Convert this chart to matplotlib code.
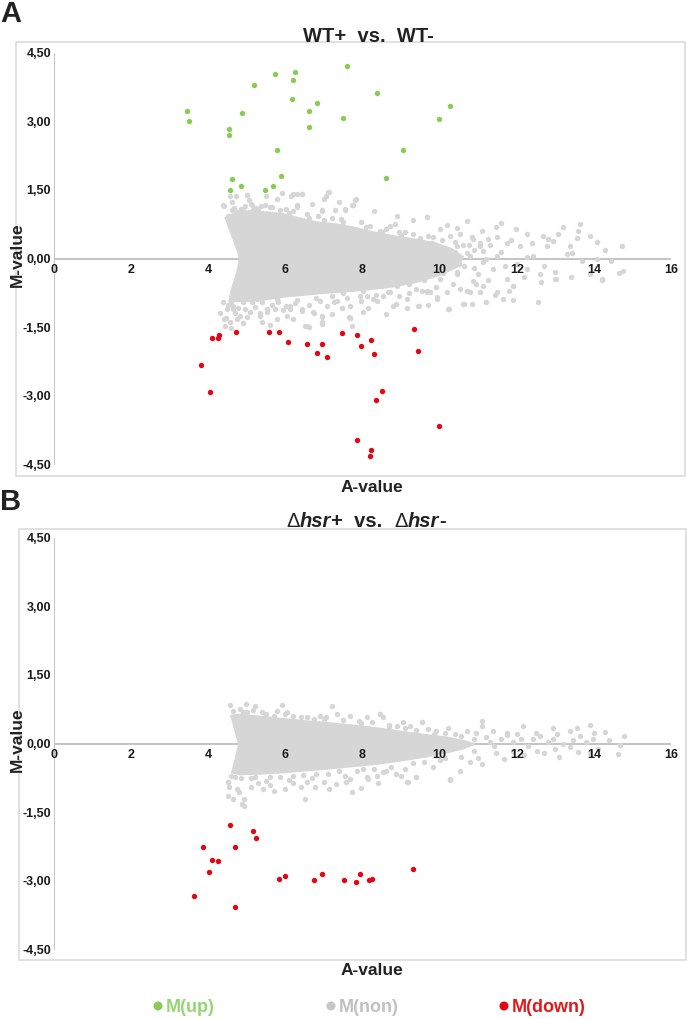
import matplotlib
matplotlib.use('Agg')
import matplotlib.pyplot as plt
from matplotlib.patches import Rectangle, Ellipse
from matplotlib.transforms import offset_copy

# ---------------- data ----------------
x_ticks = [0, 2, 4, 6, 8, 10, 12, 14, 16]
y_ticks = [4.5, 3.0, 1.5, 0.0, -1.5, -3.0, -4.5]
y_tick_labels = ['4,50', '3,00', '1,50', '0,00', '-1,50', '-3,00', '-4,50']
legend_labels = ['M(up)', 'M(non)', 'M(down)']

# Panel A: WT+ vs. WT-   (A-value, M-value)
up_A = [(3.44, 3.24), (3.51, 3.01), (4.53, 2.83), (4.53, 2.71), (4.88, 3.20), (6.18, 3.50),
        (6.61, 3.23), (6.81, 3.40), (6.60, 2.89), (7.49, 3.08), (5.79, 2.39), (4.62, 1.74),
        (4.56, 1.50), (4.84, 1.59), (5.48, 1.51), (5.68, 1.59), (5.88, 1.81), (5.74, 4.05),
        (6.24, 4.09), (6.21, 3.91), (5.19, 3.81), (7.61, 4.22), (8.38, 3.63), (10.28, 3.34),
        (9.98, 3.06), (9.04, 2.39), (8.61, 1.78)]

down_A = [(3.81, -2.31), (4.05, -2.90), (4.10, -1.72), (4.24, -1.72), (4.28, -1.67), (4.71, -1.59),
          (5.57, -1.59), (5.84, -1.60), (6.07, -1.82), (6.57, -1.86), (6.82, -2.05), (6.96, -1.85),
          (7.07, -2.15), (7.48, -1.62), (7.87, -1.65), (8.22, -1.76), (7.96, -1.91), (8.30, -2.07),
          (9.33, -1.54), (9.43, -2.02), (8.50, -2.88), (8.34, -3.07), (9.98, -3.65), (7.86, -3.95),
          (8.22, -4.18), (8.19, -4.30)]

# dense core of the non-changed genes (outline)
core_A = [(4.45, 0.90), (4.70, 1.00), (5.10, 1.05), (5.50, 1.02), (5.95, 0.98), (6.40, 0.88),
          (6.80, 0.80), (7.30, 0.76), (7.80, 0.68), (8.30, 0.58), (8.80, 0.50), (9.40, 0.42),
          (9.90, 0.34), (10.30, 0.22), (10.60, 0.05), (10.50, -0.15), (10.00, -0.35), (9.40, -0.50),
          (8.80, -0.60), (8.20, -0.66), (7.70, -0.70), (7.00, -0.74), (6.50, -0.78), (6.00, -0.82),
          (5.50, -0.88), (5.00, -0.92), (4.55, -0.92), (4.60, -0.70), (4.75, -0.30), (4.82, 0.00),
          (4.78, 0.15), (4.60, 0.55)]

non_A = [(4.41, 1.16), (4.56, 1.38), (4.72, 1.37), (4.62, 1.08), (5.13, 1.18), (5.37, 1.15),
         (5.50, 1.38), (5.77, 1.31), (6.14, 1.38), (6.29, 1.43), (6.42, 1.41), (7.11, 1.46),
         (7.05, 1.38), (5.60, 1.13), (6.02, 1.10), (6.29, 1.13), (6.94, 1.05), (7.55, 1.09),
         (7.83, 1.30), (7.76, 1.17), (7.55, 1.07), (9.67, 0.92), (8.71, 0.73), (10.20, 0.74),
         (10.71, 0.82), (11.46, 0.69), (11.59, 0.79), (11.99, 0.65), (12.26, 0.55), (12.69, 0.51),
         (12.82, 0.44), (13.21, 0.69), (13.08, 0.54), (13.64, 0.76), (13.60, 0.62), (13.90, 0.51),
         (14.07, 0.38), (13.38, 0.29), (13.43, 0.14), (14.72, 0.29), (14.07, 0.01), (12.60, -0.33),
         (12.62, -0.51), (12.99, -0.29), (12.99, -0.44), (13.90, -0.33), (14.20, -0.44), (14.64, -0.31),
         (14.76, -0.26), (12.09, 0.29), (12.43, 0.07), (11.74, 0.36), (12.26, 0.04), (11.48, 0.07),
         (11.26, 0.44), (11.05, 0.29), (10.87, 0.44), (10.53, 0.55), (10.27, 0.51), (10.44, 0.29),
         (10.70, 0.14), (11.13, -0.07), (11.39, -0.22), (11.74, -0.44), (11.91, -0.58), (11.48, -0.73),
         (11.05, -0.73), (10.70, -0.69), (10.87, -0.47), (10.44, -0.29), (10.01, -0.44), (9.75, -0.29),
         (9.67, -0.69), (10.18, -0.73), (12.26, -0.22), (13.30, 0.11), (12.78, 0.29), (12.56, -0.93),
         (14.20, -0.46), (13.03, -0.44), (11.91, -0.90), (11.65, -0.87), (11.43, -0.79), (11.19, -0.95),
         (10.83, -0.98), (10.61, -0.98), (10.25, -1.09), (9.92, -0.87), (9.46, -1.02), (9.15, -1.06),
         (8.80, -1.02), (8.13, -1.06), (7.68, -1.29), (7.72, -1.46), (7.46, -1.06), (10.53, -0.66),
         (9.75, -0.73), (8.54, -0.80), (8.28, -0.87), (7.94, -0.80), (4.30, -1.19), (4.48, -1.09),
         (4.46, -1.29), (4.65, -1.09), (4.56, -1.38), (4.78, -1.06), (5.00, -1.27), (5.14, -0.95),
         (5.34, -1.17), (5.39, -1.38), (5.52, -1.09), (5.77, -1.31), (6.02, -1.02), (6.12, -1.09),
         (6.42, -1.13), (6.51, -1.46), (6.60, -1.49), (6.73, -1.17), (6.94, -1.27), (6.94, -1.38),
         (7.07, -1.02), (7.33, -0.91), (7.46, -1.06), (7.66, -1.27), (5.26, -0.87), (5.77, -0.87),
         (6.21, 1.42), (6.42, 1.42), (6.99, 1.31), (7.12, 1.46), (7.81, 1.28), (7.72, 1.17),
         (7.29, 1.06), (6.94, 1.06), (9.66, 0.92), (8.84, 0.77), (9.10, 0.58), (8.45, 0.62),
         (9.84, 0.47), (10.83, 0.47), (11.05, 0.36), (11.13, 0.18), (10.79, 0.07), (10.62, -0.15),
         (10.44, -0.33), (11.00, -0.33), (11.13, -0.58), (10.79, -0.73), (10.62, -0.98), (10.23, -1.09),
         (9.93, -0.84), (9.66, -0.73), (9.40, -0.66), (9.45, -1.02), (9.15, -0.88), (8.88, -0.98),
         (8.71, -0.73), (8.37, -0.91), (8.11, -0.80), (7.68, -1.02), (7.68, -1.28), (6.94, -1.24),
         (6.94, -1.42), (6.55, -1.46), (6.72, -1.16), (6.42, -1.09), (6.12, -1.02), (6.03, -1.24),
         (5.73, -1.09), (5.52, -1.16), (5.34, -1.24), (5.08, -1.16), (4.82, -1.24), (4.65, -1.02),
         (4.74, -1.31), (4.43, -1.46), (4.61, 1.24), (4.39, 1.17), (5.12, 1.20), (5.47, 1.17),
         (5.65, 1.13), (4.91, 1.06), (5.17, 1.06), (4.74, 1.02), (6.29, 1.17),
         (9.50, 0.45), (9.80, 0.35), (10.00, 0.25), (10.40, 0.15), (10.60, 0.30), (10.90, 0.20),
         (11.20, 0.00), (10.50, -0.10), (10.90, -0.20), (9.90, -0.10), (10.10, -0.30), (9.60, -0.45),
         (9.20, -0.55), (8.90, -0.60), (8.50, -0.60), (8.00, -0.70), (7.50, -0.75), (7.20, -0.80),
         (6.80, -0.85), (6.30, -0.90), (5.80, -0.95), (5.40, -0.95), (4.90, -0.95), (4.60, -0.95),
         (8.10, 0.70), (8.50, 0.60), (9.00, 0.52), (7.50, 0.80), (7.00, 0.85), (6.60, 0.90),
         (6.10, 1.00), (5.30, 1.08), (4.85, 1.10),
         (4.50, 0.95), (4.68, 1.12), (4.95, 1.15), (5.25, 1.12), (5.05, 1.28), (5.85, 1.08),
         (6.20, 1.05), (6.55, 0.98), (6.85, 0.95), (7.20, 0.90), (7.45, 0.88), (7.95, 0.80),
         (8.20, 0.72), (8.60, 0.66), (8.95, 0.60), (9.30, 0.55), (9.70, 0.50), (10.05, 0.42),
         (10.40, 0.38), (10.75, 0.30), (11.30, 0.30), (11.60, 0.15), (11.85, 0.42), (12.00, -0.10),
         (11.70, -0.15), (11.25, -0.45), (10.95, -0.55), (10.35, -0.55), (9.90, -0.62), (9.55, -0.70),
         (9.20, -0.75), (8.95, -0.80), (8.65, -0.72), (8.35, -0.78), (7.95, -0.92), (7.60, -0.85),
         (7.25, -0.95), (6.90, -0.92), (6.60, -1.00), (6.25, -0.96), (5.95, -1.12), (5.65, -1.00),
         (5.20, -1.05), (4.95, -1.10), (4.70, -1.18), (4.50, -1.00), (4.38, -0.95), (4.40, -1.30),
         (4.60, -1.50), (4.90, -1.40), (5.60, -1.45), (6.20, -1.30), (7.20, -1.20), (8.00, -1.15),
         (8.60, -1.20), (9.70, -1.00), (5.00, 1.40), (5.90, 1.45), (6.70, 1.20), (7.40, 1.25),
         (8.30, 1.05), (8.90, 0.95), (9.30, 0.85), (10.00, 0.65), (10.45, 0.68), (12.40, 0.35),
         (12.95, 0.40), (13.55, 0.45), (14.30, 0.20), (13.70, -0.05), (12.70, -0.15), (13.40, -0.40),
         (14.45, -0.05), (11.10, 0.62), (11.50, 0.48), (11.80, -0.70), (12.20, -0.40)]

# Panel B: dhsr+ vs. dhsr-
down_B = [(3.63, -3.31), (3.86, -2.24), (4.03, -2.79), (4.11, -2.53), (4.25, -2.56), (4.57, -1.78),
          (4.69, -2.26), (4.70, -3.57), (5.15, -1.91), (5.24, -2.05), (5.83, -2.95), (6.00, -2.89),
          (6.75, -2.97), (6.96, -2.85), (7.53, -2.97), (7.83, -3.01), (7.93, -2.83), (8.18, -2.98),
          (8.24, -2.94), (9.32, -2.72)]

core_B = [(4.60, 0.62), (4.80, 0.64), (5.30, 0.60), (5.90, 0.55), (6.50, 0.50), (7.20, 0.45),
          (7.80, 0.40), (8.40, 0.34), (9.00, 0.27), (9.60, 0.20), (10.20, 0.14), (10.60, 0.07),
          (10.90, 0.00), (10.60, -0.10), (10.20, -0.18), (9.60, -0.28), (9.00, -0.36), (8.40, -0.43),
          (7.80, -0.48), (7.20, -0.53), (6.50, -0.58), (5.90, -0.62), (5.30, -0.65), (4.80, -0.66),
          (4.62, -0.62), (4.72, -0.30), (4.80, 0.00), (4.70, 0.30)]

non_B = [(4.51, -0.82), (4.50, -1.13), (4.92, -1.20), (4.88, -1.31), (4.92, -1.35), (4.74, -0.98),
         (5.42, -0.98), (5.70, -1.02), (5.99, -0.98), (6.52, -1.20), (6.78, -0.95), (7.12, -0.98),
         (7.58, -0.84), (7.72, -1.04), (7.97, -0.97), (8.15, -0.77), (8.37, -0.69), (8.60, -0.58),
         (9.17, -0.82), (9.40, -0.73), (10.27, -0.78), (10.53, -0.58), (11.10, -0.44), (11.67, -0.33),
         (12.18, -0.25), (12.52, -0.15), (12.98, -0.11), (13.37, -0.07), (13.60, -0.18), (14.11, -0.11),
         (14.62, -0.22), (14.68, -0.02), (11.09, 0.51), (11.09, 0.40), (12.17, 0.40), (11.39, 0.29),
         (12.95, 0.36), (13.55, 0.36), (13.90, 0.41), (14.29, 0.26), (14.77, 0.18), (13.38, 0.29),
         (13.64, 0.18), (10.23, 0.36), (9.54, 0.47), (9.23, 0.40), (8.46, 0.65), (8.89, 0.40),
         (8.11, 0.58), (7.68, 0.62), (9.71, 0.33), (10.70, 0.29), (11.74, 0.25), (12.00, 0.22),
         (12.60, 0.18), (12.95, 0.11), (13.99, 0.11), (12.43, 0.11), (4.56, 0.85), (4.99, 0.87),
         (5.21, 0.84), (5.90, 0.85), (7.20, 0.84), (4.82, 0.76), (5.51, 0.65), (5.77, 0.72),
         (6.21, 0.62), (6.55, 0.58), (6.90, 0.62), (7.33, 0.65), (8.45, 0.65), (8.54, 0.58),
         (9.06, 0.47), (9.54, 0.47), (4.52, -0.84), (6.55, -0.84), (6.99, -0.84), (7.68, -0.77),
         (8.11, -0.73), (8.54, -0.62), (8.88, -0.66), (9.15, -0.84), (9.40, -0.73), (9.84, -0.51),
         (10.27, -0.77), (10.79, -0.40), (5.10, -0.75), (5.60, -0.72), (6.20, -0.70), (6.80, -0.65),
         (7.40, -0.60), (8.00, -0.55), (9.30, -0.42), (10.00, -0.35), (10.90, -0.15), (11.40, -0.05),
         (11.60, 0.10), (11.20, 0.15), (10.90, 0.10), (10.40, 0.22), (9.90, 0.28), (11.90, 0.05),
         (12.30, -0.05), (12.80, 0.05), (13.20, 0.00), (13.80, 0.05), (5.00, 0.70), (6.00, 0.65),
         (7.00, 0.55), (7.90, 0.50), (8.70, 0.42), (4.70, -0.72), (5.30, -0.85), (6.20, -0.85),
         (4.65, 0.72), (4.90, 0.70), (5.15, 0.75), (5.40, 0.70), (5.70, 0.62), (6.05, 0.70),
         (6.40, 0.60), (6.75, 0.55), (7.05, 0.60), (7.50, 0.52), (7.95, 0.45), (8.25, 0.48),
         (8.70, 0.38), (9.10, 0.35), (9.40, 0.30), (9.85, 0.22), (10.15, 0.25), (10.55, 0.18),
         (10.95, 0.25), (11.30, 0.05), (11.75, 0.20), (12.10, 0.12), (12.50, 0.25), (13.05, 0.22),
         (13.45, 0.08), (14.00, 0.25), (14.40, 0.08), (4.60, -0.70), (4.85, -0.75), (5.20, -0.72),
         (5.50, -0.80), (5.85, -0.72), (6.10, -0.78), (6.45, -0.68), (6.70, -0.75), (7.10, -0.65),
         (7.55, -0.70), (7.85, -0.60), (8.30, -0.55), (8.75, -0.50), (9.10, -0.55), (9.60, -0.40),
         (10.15, -0.30), (10.55, -0.28), (11.00, -0.30), (11.45, -0.20), (11.90, -0.15), (12.70, -0.20),
         (13.10, -0.28), (13.90, -0.20), (4.55, -0.95), (4.80, -1.05), (5.10, -0.95), (5.60, -0.90),
         (6.40, -0.95), (7.30, -0.88), (8.40, -0.85), (9.00, -0.70), (4.65, -1.20)]

# ---------------- style ----------------
W, H = 687, 1020
GREEN = '#8acb56'
RED = '#e30613'
GRAY = '#d6d6d6'
AXIS = '#c4c4c4'
FRAME = '#dcdcdc'
FONT = ['Liberation Sans', 'DejaVu Sans']
plt.rcParams['font.family'] = FONT

fig = plt.figure(figsize=(W / 100, H / 100), dpi=100)


def fx(px):
    return px / W


def fy(py):
    return 1 - py / H


def unzip(pts):
    return [p[0] for p in pts], [p[1] for p in pts]


def panel(ax_top, ax_bot, frame, up, down, core, non, ylab_y, xlab_y):
    x0, y0, x1, y1 = frame
    fig.patches.append(Rectangle((fx(x0), fy(y1)), fx(x1) - fx(x0), fy(y0) - fy(y1),
                                 transform=fig.transFigure, fill=False, edgecolor=FRAME, lw=1.2))
    ax = fig.add_axes([fx(54), fy(ax_bot), fx(671) - fx(54), fy(ax_top) - fy(ax_bot)])
    ax.set_xlim(0, 16)
    ax.set_ylim(-4.5, 4.5)
    ax.patch.set_visible(False)
    for s in ax.spines.values():
        s.set_visible(False)
    ax.set_xticks([])
    ax.set_yticks([])
    ax.plot([0, 16], [0, 0], color=AXIS, lw=1.4, zorder=1, solid_capstyle='butt')
    ax.plot([0, 0], [-4.5, 4.5], color=AXIS, lw=1.4, zorder=1, solid_capstyle='butt')
    cx, cy = unzip(core)
    ax.fill(cx, cy, color=GRAY, lw=1.5, ec=GRAY, zorder=2)
    nx, ny = unzip(non)
    ax.scatter(nx, ny, s=15, color=GRAY, lw=0, zorder=2)
    if up:
        ux, uy = unzip(up)
        ax.scatter(ux, uy, s=15, color=GREEN, lw=0, zorder=3)
    dx, dy = unzip(down)
    ax.scatter(dx, dy, s=15, color=RED, lw=0, zorder=3)
    tx = offset_copy(ax.transData, fig=fig, x=0, y=-4, units='dots')
    for t in x_ticks:
        ax.text(t, 0, str(t), transform=tx, ha='center', va='top', fontsize=9,
                fontweight='bold', color='#1a1a1a', zorder=5)
    ty = offset_copy(ax.transData, fig=fig, x=-3, y=0, units='dots')
    for v, lab in zip(y_ticks, y_tick_labels):
        ax.text(0, v, lab, transform=ty, ha='right', va='center', fontsize=9,
                fontweight='bold', color='#1a1a1a')
    fig.text(fx(17), fy(ylab_y), 'M-value', rotation=90, ha='center', va='center',
             fontsize=12.5, fontweight='bold', color='#222222')
    fig.text(fx(372), fy(xlab_y), 'A-value', ha='center', va='center',
             fontsize=12.5, fontweight='bold', color='#222222')
    return ax


panel(54, 466, (16, 43, 685, 477), up_A, down_A, core_A, non_A, 255, 488)
panel(539, 951, (19, 530, 686, 961), [], down_B, core_B, non_B, 740, 971)

# panel letters
fig.text(fx(0), fy(14), 'A', ha='left', va='center', fontsize=21, fontweight='bold', color='#222222')
fig.text(fx(0), fy(502), 'B', ha='left', va='center', fontsize=21, fontweight='bold', color='#222222')

# titles
fig.text(fx(368), fy(36), 'WT+  vs.  WT-', ha='center', va='center', fontsize=14.5,
         fontweight='bold', color='#222222')

renderer = fig.canvas.get_renderer()
pieces = [('\u0394', 'normal', 'normal'), ('hsr', 'italic', 'bold'), ('+  vs.  ', 'normal', 'bold'),
          ('\u0394', 'normal', 'normal'), ('hsr', 'italic', 'bold'), ('-', 'normal', 'bold')]
objs = []
for txt, st, wt in pieces:
    o = fig.text(0, fy(522), txt, ha='left', va='center', fontsize=14.5, fontstyle=st,
                 fontweight=wt, color='#222222')
    objs.append(o)
widths = [o.get_window_extent(renderer).width for o in objs]
total = sum(widths)
xpos = 366 - total / 2
for o, w in zip(objs, widths):
    o.set_x(fx(xpos))
    xpos += w

# legend
leg_x = [158, 331, 504]
leg_c = [GREEN, '#c6c6c6', RED]
leg_tc = ['#94d672', '#c0c0c0', '#e01a1a']
for lx, c, tc, lab in zip(leg_x, leg_c, leg_tc, legend_labels):
    fig.patches.append(Ellipse((fx(lx), fy(1007)), 9 / W, 9 / H, transform=fig.transFigure,
                               color=c, lw=0))
    fig.text(fx(lx + 8), fy(1008), lab, ha='left', va='center', fontsize=13,
             fontweight='bold', color=tc)

fig.savefig('out.png', dpi=100)
